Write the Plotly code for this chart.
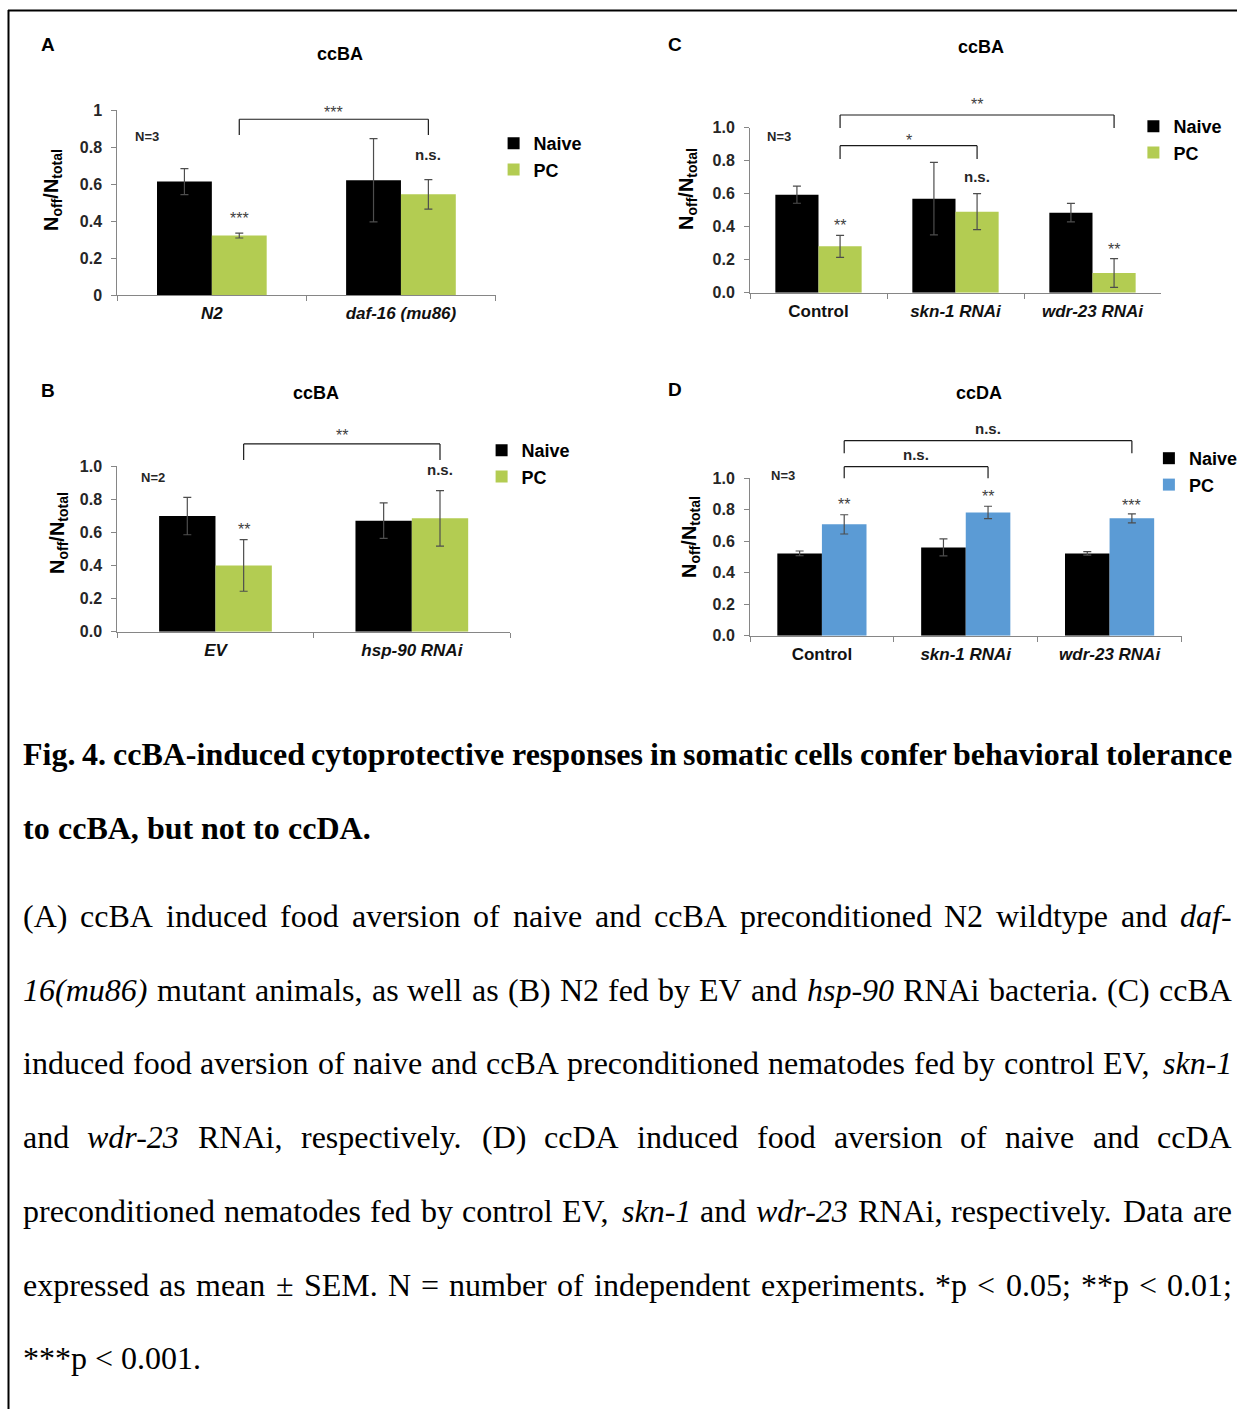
import plotly.graph_objects as go

W, H = 1237, 1409

# ---------------- data ----------------
a_categories = ["N2", "daf-16 (mu86)"]
a_naive = [0.613, 0.620]
a_naive_err = [0.070, 0.225]
a_pc = [0.321, 0.544]
a_pc_err = [0.013, 0.080]

b_categories = ["EV", "hsp-90 RNAi"]
b_naive = [0.698, 0.670]
b_naive_err = [0.113, 0.107]
b_pc = [0.400, 0.684]
b_pc_err = [0.156, 0.167]

c_categories = ["Control", "skn-1 RNAi", "wdr-23 RNAi"]
c_naive = [0.594, 0.570, 0.485]
c_naive_err = [0.052, 0.220, 0.056]
c_pc = [0.281, 0.491, 0.119]
c_pc_err = [0.067, 0.109, 0.087]

d_categories = ["Control", "skn-1 RNAi", "wdr-23 RNAi"]
d_naive = [0.522, 0.560, 0.522]
d_naive_err = [0.015, 0.054, 0.011]
d_pc = [0.706, 0.782, 0.744]
d_pc_err = [0.061, 0.039, 0.028]

y_ticks = [0, 0.2, 0.4, 0.6, 0.8, 1.0]
italic_categories = {"N2", "daf-16 (mu86)", "EV", "hsp-90 RNAi", "skn-1 RNAi", "wdr-23 RNAi"}

# significance marks: (category index, text, y)
a_marks = [(0, "***", 0.416), (1, "n.s.", 0.762)]
b_marks = [(0, "**", 0.616), (1, "n.s.", 0.976)]
c_marks = [(0, "**", 0.406), (2, "**", 0.259), (1, "n.s.", 0.707)]
d_marks = [(0, "**", 0.835), (1, "**", 0.880), (2, "***", 0.823)]
# brackets: (from idx, to idx, top y, bottom y, label, label y)
a_brackets = [(0, 1, 0.950, 0.865, "***", 0.984)]
b_brackets = [(0, 1, 1.133, 1.036, "**", 1.183)]
c_brackets = [(0, 1, 0.891, 0.810, "*", 0.925), (0, 2, 1.077, 0.998, "**", 1.139)]
d_brackets = [(0, 1, 1.072, 0.998, "n.s.", 1.146), (0, 2, 1.237, 1.157, "n.s.", 1.317)]

caption_heading = [
    "Fig. 4. ccBA-induced cytoprotective responses in somatic cells confer behavioral tolerance",
    "to ccBA, but not to ccDA.",
]
caption_body = [
    "(A) ccBA induced food aversion of naive and ccBA preconditioned N2 wildtype and _daf-_",
    "_16(mu86)_ mutant animals, as well as (B) N2 fed by EV and _hsp-90_ RNAi bacteria. (C) ccBA",
    "induced food aversion of naive and ccBA preconditioned nematodes fed by control EV, _skn-1_",
    "and _wdr-23_ RNAi, respectively. (D) ccDA induced food aversion of naive and ccDA",
    "preconditioned nematodes fed by control EV, _skn-1_ and _wdr-23_ RNAi, respectively. Data are",
    "expressed as mean ± SEM. N = number of independent experiments. *p < 0.05; **p < 0.01;",
    "***p < 0.001.",
]

# ---------------- style ----------------
NAIVE_COLOR = "#000000"
PC_GREEN = "#b3cc52"
PC_BLUE = "#5b9bd5"
AXIS_GRAY = "#868686"
ERR_COLOR = "#4d4d4d"
SANS = "Liberation Sans, Arial, sans-serif"
SERIF = "Liberation Serif, Times New Roman, serif"


def fx(x):
    return x / W


def fy(y):
    return 1 - y / H


panels = [
    dict(letter="A", title="ccBA", cats=a_categories, naive=a_naive, naive_err=a_naive_err,
         pc=a_pc, pc_err=a_pc_err, pc_color=PC_GREEN, xdom=(117.3, 495.5), ydom=(110, 295),
         barw=0.29, tickfmt="", marks=a_marks, brackets=a_brackets, N="N=3", Npos=(147, 137),
         letter_pos=(47.5, 45), title_pos=(340, 54), ytitle_pos=(53, 190),
         legend_text=(533.6, 145)),
    dict(letter="B", title="ccBA", cats=b_categories, naive=b_naive, naive_err=b_naive_err,
         pc=b_pc, pc_err=b_pc_err, pc_color=PC_GREEN, xdom=(117.3, 510), ydom=(466, 631.7),
         barw=0.287, tickfmt=".1f", marks=b_marks, brackets=b_brackets, N="N=2", Npos=(153, 477),
         letter_pos=(47.5, 390), title_pos=(316, 393), ytitle_pos=(58, 533),
         legend_text=(521.6, 452)),
    dict(letter="C", title="ccBA", cats=c_categories, naive=c_naive, naive_err=c_naive_err,
         pc=c_pc, pc_err=c_pc_err, pc_color=PC_GREEN, xdom=(750, 1161), ydom=(127.7, 292.7),
         barw=0.315, tickfmt=".1f", marks=c_marks, brackets=c_brackets, N="N=3", Npos=(778.5, 136.7),
         letter_pos=(674.7, 45), title_pos=(981, 47.3), ytitle_pos=(688, 189),
         legend_text=(1173.4, 128)),
    dict(letter="D", title="ccDA", cats=d_categories, naive=d_naive, naive_err=d_naive_err,
         pc=d_pc, pc_err=d_pc_err, pc_color=PC_BLUE, xdom=(750, 1181.5), ydom=(478, 635.7),
         barw=0.31, tickfmt=".1f", marks=d_marks, brackets=d_brackets, N="N=3", Npos=(782.6, 475),
         letter_pos=(674.7, 389), title_pos=(979.5, 392.7), ytitle_pos=(690, 537),
         legend_text=(1188.9, 460)),
]

fig = go.Figure()
annotations = []
shapes = []
layout_extra = {}


def cat_label(c):
    return f"<i>{c}</i>" if c in italic_categories else c


def paper_text(text, x, y, size, color="#000", weight="bold", family=SANS, angle=0):
    annotations.append(dict(text=text, x=fx(x), y=fy(y), xref="paper", yref="paper",
                            xanchor="center", yanchor="middle", showarrow=False,
                            textangle=angle, borderpad=0,
                            font=dict(family=family, size=size, color=color, weight=weight)))


for i, p in enumerate(panels):
    n = i + 1
    xa = "x" if n == 1 else f"x{n}"
    ya = "y" if n == 1 else f"y{n}"
    xkey = "xaxis" if n == 1 else f"xaxis{n}"
    ykey = "yaxis" if n == 1 else f"yaxis{n}"
    leg = "legend" if n == 1 else f"legend{n}"
    w = p["barw"]
    ncat = len(p["cats"])

    fig.add_trace(go.Bar(
        x=p["cats"], y=p["naive"], name="Naive", width=w, offset=-w,
        marker=dict(color=NAIVE_COLOR, line=dict(width=0)),
        error_y=dict(type="data", array=p["naive_err"], visible=True, color=ERR_COLOR,
                     thickness=1.2, width=4),
        xaxis=xa, yaxis=ya, legend=leg, legendgroup=f"{leg}n", hoverinfo="skip"))
    fig.add_trace(go.Bar(
        x=p["cats"], y=p["pc"], name="PC", width=w, offset=0,
        marker=dict(color=p["pc_color"], line=dict(width=0)),
        error_y=dict(type="data", array=p["pc_err"], visible=True, color=ERR_COLOR,
                     thickness=1.2, width=4),
        xaxis=xa, yaxis=ya, legend=leg, legendgroup=f"{leg}p", hoverinfo="skip"))

    x0, x1 = p["xdom"]
    ytop, ybot = p["ydom"]
    layout_extra[xkey] = dict(
        domain=[fx(x0), fx(x1)], anchor=ya, type="category",
        categoryorder="array", categoryarray=p["cats"],
        tickvals=p["cats"], ticktext=[cat_label(c) for c in p["cats"]],
        range=[-0.5, ncat - 0.5], automargin=False,
        showline=True, linecolor=AXIS_GRAY, linewidth=1,
        ticks="outside", tickson="boundaries", ticklen=5, tickcolor=AXIS_GRAY,
        tickfont=dict(family=SANS, size=17, color="#111111", weight="bold"),
        ticklabelstandoff=3,
        showgrid=False, zeroline=False, fixedrange=True)
    layout_extra[ykey] = dict(
        domain=[fy(ybot), fy(ytop)], anchor=xa, range=[0, 1], automargin=False,
        tickvals=y_ticks, tickformat=p["tickfmt"],
        showline=True, linecolor=AXIS_GRAY, linewidth=1,
        ticks="outside", ticklen=5, tickcolor=AXIS_GRAY,
        tickfont=dict(family=SANS, size=16, color="#262626", weight="bold"),
        ticklabelstandoff=6,
        showgrid=False, zeroline=False, fixedrange=True)

    lx, ly = p["legend_text"]
    layout_extra[leg] = dict(
        x=fx(lx - 40), y=fy(ly - 20), xanchor="left", yanchor="top",
        font=dict(family=SANS, size=18, color="#000000", weight="bold"),
        bgcolor="rgba(0,0,0,0)", borderwidth=0, tracegroupgap=0,
        traceorder="grouped", itemclick=False, itemdoubleclick=False)

    def pc_center(idx):
        return (idx + 0.5 + w / 2) / ncat

    paper_text(p["letter"], *p["letter_pos"], size=19)
    paper_text(p["title"], *p["title_pos"], size=18)
    paper_text("N<sub>off</sub>/N<sub>total</sub>", *p["ytitle_pos"], size=20, angle=-90)
    paper_text(p["N"], *p["Npos"], size=13, color="#262626")

    for idx, txt, yv in p["marks"]:
        star = txt.startswith("*")
        annotations.append(dict(text=txt, x=pc_center(idx), y=yv,
                                xref=f"{xa} domain", yref=f"{ya} domain", showarrow=False,
                                xanchor="center", yanchor="middle",
                                font=dict(family=SANS, size=16 if star else 15,
                                          color="#404040" if star else "#262626",
                                          weight="normal" if star else "bold")))
    for i0, i1, yt, yb, txt, yl in p["brackets"]:
        xa0, xa1 = pc_center(i0), pc_center(i1)
        for (sx0, sy0, sx1, sy1) in [(xa0, yb, xa0, yt), (xa0, yt, xa1, yt), (xa1, yt, xa1, yb)]:
            shapes.append(dict(type="line", x0=sx0, y0=sy0, x1=sx1, y1=sy1,
                               xref=f"{xa} domain", yref=f"{ya} domain",
                               line=dict(color="#1a1a1a", width=1.2)))
        star = txt.startswith("*")
        annotations.append(dict(text=txt, x=(xa0 + xa1) / 2, y=yl,
                                xref=f"{xa} domain", yref=f"{ya} domain", showarrow=False,
                                xanchor="center", yanchor="middle",
                                font=dict(family=SANS, size=16 if star else 15,
                                          color="#404040" if star else "#262626",
                                          weight="normal" if star else "bold")))

# ---------------- caption (justified with Times metrics) ----------------
TIMES_R = {" ": 250, "(": 333, ")": 333, "*": 500, "+": 564, ",": 250, "-": 333, ".": 250,
           ":": 278, ";": 278, "<": 564, "=": 564, ">": 564, "±": 564,
           "A": 722, "B": 667, "C": 667, "D": 722, "E": 611, "F": 556, "G": 722, "H": 722,
           "I": 333, "J": 389, "K": 722, "L": 611, "M": 889, "N": 722, "O": 722, "P": 556,
           "Q": 722, "R": 667, "S": 556, "T": 611, "U": 722, "V": 722, "W": 944, "X": 722,
           "Y": 722, "Z": 611,
           "a": 444, "b": 500, "c": 444, "d": 500, "e": 444, "f": 333, "g": 500, "h": 500,
           "i": 278, "j": 278, "k": 500, "l": 278, "m": 778, "n": 500, "o": 500, "p": 500,
           "q": 500, "r": 333, "s": 389, "t": 278, "u": 500, "v": 500, "w": 722, "x": 500,
           "y": 500, "z": 444}
TIMES_I = {"(": 333, ")": 333, "-": 333, "a": 500, "b": 500, "c": 444, "d": 500, "e": 444,
           "f": 278, "g": 500, "h": 500, "i": 278, "k": 444, "l": 278, "m": 722, "n": 500,
           "o": 500, "p": 500, "r": 389, "s": 389, "t": 278, "u": 500, "v": 444, "w": 667,
           "y": 444}
TIMES_B = {" ": 250, ".": 250, ",": 250, "-": 333, "A": 722, "B": 667, "C": 722, "D": 722,
           "F": 611, "a": 500, "b": 556, "c": 444, "d": 556, "e": 444, "f": 333, "g": 500,
           "h": 556, "i": 278, "l": 278, "m": 833, "n": 556, "o": 500, "p": 556, "r": 444,
           "s": 389, "t": 333, "u": 556, "v": 500, "y": 500}

CAP_SIZE = 32
X_LEFT, X_RIGHT = 23, 1232


def word_width(word, table):
    return sum(table.get(ch, 500) for ch in word) / 1000 * CAP_SIZE


def place_line(line, y, bold=False, justify=True):
    words = line.split(" ")
    items = []
    for wd in words:
        if wd.startswith("_") and wd.endswith("_") and len(wd) > 2:
            core = wd[1:-1]
            items.append((f"<i>{core}</i>", word_width(core, TIMES_I)))
        else:
            table = TIMES_B if bold else TIMES_R
            items.append((wd.replace("<", "&lt;"), word_width(wd, table)))
    total = sum(wv for _, wv in items)
    if justify and len(items) > 1:
        gap = (X_RIGHT - X_LEFT - total) / (len(items) - 1)
    else:
        gap = 0.25 * CAP_SIZE
    x = X_LEFT
    for txt, wv in items:
        annotations.append(dict(text=f"<b>{txt}</b>" if bold else txt, x=fx(x), y=fy(y),
                                xref="paper", yref="paper", xanchor="left", yanchor="middle",
                                showarrow=False, borderpad=0, borderwidth=0,
                                font=dict(family=SERIF, size=CAP_SIZE, color="#000000")))
        x += wv + gap


heading_y = [754, 828]
for k, line in enumerate(caption_heading):
    place_line(line, heading_y[k], bold=True, justify=(k < len(caption_heading) - 1))

body_y = [916, 990, 1063, 1137, 1211, 1285, 1358]
for k, line in enumerate(caption_body):
    place_line(line, body_y[k], bold=False, justify=(k < len(caption_body) - 1))

# frame lines
shapes.append(dict(type="line", xref="paper", yref="paper", x0=fx(8), y0=fy(10.5), x1=1, y1=fy(10.5),
                   line=dict(color="#000", width=2)))
shapes.append(dict(type="line", xref="paper", yref="paper", x0=fx(8.5), y0=fy(10), x1=fx(8.5), y1=0,
                   line=dict(color="#000", width=2)))

fig.update_layout(
    width=W, height=H, margin=dict(l=0, r=0, t=0, b=0, pad=0, autoexpand=False),
    paper_bgcolor="white", plot_bgcolor="white",
    barmode="group", showlegend=True,
    annotations=annotations, shapes=shapes,
    font=dict(family=SANS),
    **layout_extra,
)

post = (
    "var de=document.documentElement, b=document.body;"
    "de.style.margin='0';de.style.padding='0';de.style.overflow='hidden';"
    "b.style.margin='0';b.style.padding='0';b.style.overflow='hidden';"
    "var g=document.querySelector('.plotly-graph-div');"
    "if(g){g.style.position='fixed';g.style.left='0px';g.style.top='0px';}"
)

fig.write_html("out.html", config={"displayModeBar": False}, post_script=post)
